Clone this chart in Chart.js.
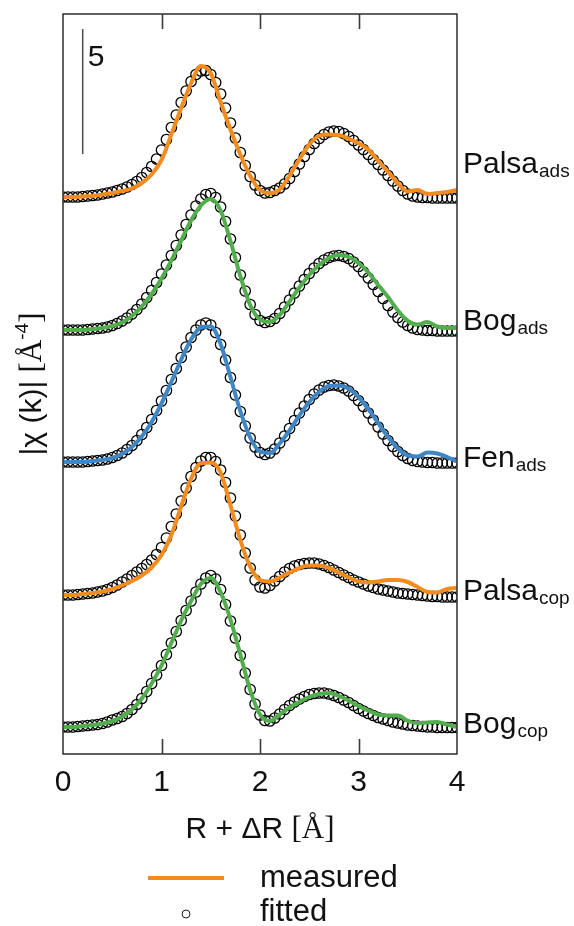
<!DOCTYPE html>
<html>
<head>
<meta charset="utf-8">
<script src="https://cdn.jsdelivr.net/npm/chart.js@4.4.1/dist/chart.umd.min.js"></script>
<style>body{margin:0;background:#fff}</style>
</head>
<body>
<canvas id="exafs" width="574" height="926"></canvas>
<script>
// R grids (Å)
const rMeasured = [0,0.1,0.2,0.3,0.4,0.5,0.6,0.7,0.8,0.9,1.0,1.1,1.2,1.3,1.4,1.5,1.6,1.7,1.8,1.9,2.0,2.1,2.2,2.3,2.4,2.5,2.6,2.7,2.8,2.9,3.0,3.1,3.2,3.3,3.4,3.5,3.6,3.7,3.8,3.9,4.0];
const rFitted = [0,0.05,0.1,0.15,0.2,0.25,0.3,0.35,0.4,0.45,0.5,0.55,0.6,0.65,0.7,0.75,0.8,0.85,0.9,0.95,
  1.0,1.05,1.1,1.15,1.2,1.25,1.3,1.35,1.4,1.45,1.5,1.55,1.6,1.65,1.7,1.75,1.8,1.85,1.9,1.95,
  2.0,2.05,2.1,2.15,2.2,2.25,2.3,2.35,2.4,2.45,2.5,2.55,2.6,2.65,2.7,2.75,2.8,2.85,2.9,2.95,
  3.0,3.05,3.1,3.15,3.2,3.25,3.3,3.35,3.4,3.45,3.5,3.55,3.6,3.65,3.7,3.75,3.8,3.85,3.9,3.95,4.0];

const sampleNames = ["Palsa", "Bog", "Fen", "Palsa", "Bog"];
const sampleSubs = ["ads", "ads", "ads", "cop", "cop"];
const offsets = [22.28, 16.96, 11.68, 6.36, 1.08];
const labelLevels = [23.24, 16.96, 11.48, 6.16, 0.84];
const lineColors = ["#f28c1e", "#52ad4c", "#3f86c4", "#f28c1e", "#52ad4c"];
const xTicks = [0, 1, 2, 3, 4];
const scaleBarX = [0.2, 0.2];
const scaleBarY = [24, 29];

// measured |chi(R)|
const palsaAdsMeas = [0,0,0.02,0.04,0.1,0.16,0.24,0.34,0.56,0.9,1.48,2.5,3.56,4.55,5.24,4.95,3.8,2.7,1.7,0.85,
  0.28,0.16,0.3,0.85,1.5,2.1,2.45,2.5,2.48,2.33,2.15,1.9,1.45,1.0,0.55,0.22,0.28,0.12,0.16,0.2,0.28];
const bogAdsMeas = [0,0,0,0.04,0.08,0.16,0.3,0.56,0.94,1.44,2.06,2.78,3.58,4.38,4.98,5.24,4.78,3.56,2.16,1.0,
  0.42,0.32,0.6,1.14,1.7,2.2,2.6,2.88,3.0,2.92,2.68,2.3,1.8,1.32,0.78,0.36,0.22,0.32,0.14,0.08,0.08];
const fenAdsMeas = [0,0,0,0.04,0.08,0.16,0.32,0.6,1.02,1.6,2.34,3.2,4.1,4.9,5.38,5.42,4.72,3.4,2.04,0.98,
  0.42,0.36,0.74,1.26,1.86,2.4,2.8,3.04,3.06,2.94,2.6,2.12,1.56,1.0,0.54,0.26,0.22,0.38,0.34,0.2,0.02];
const palsaCopMeas = [0,0,0.04,0.08,0.14,0.24,0.38,0.56,0.78,1.1,1.6,2.4,3.55,4.65,5.28,5.3,4.9,3.6,2.2,1.14,
  0.6,0.54,0.7,0.9,1.08,1.18,1.18,1.08,0.9,0.7,0.54,0.5,0.54,0.6,0.6,0.52,0.32,0.12,0.1,0.24,0.28];
const bogCopMeas = [0,0,0.04,0.08,0.14,0.24,0.42,0.7,1.14,1.74,2.46,3.36,4.26,5.04,5.72,5.96,5.4,4.3,2.9,1.48,
  0.5,0.24,0.5,0.78,1.0,1.2,1.32,1.36,1.24,1.06,0.84,0.66,0.5,0.46,0.46,0.24,0.16,0.18,0.2,0.1,0];

// fitted |chi(R)|
const palsaAdsFit = [0,0,0,0,0.02,0.04,0.06,0.08,0.12,0.16,0.2,0.26,0.32,0.4,0.5,0.62,0.78,0.98,1.22,1.52,
  1.88,2.3,2.78,3.28,3.78,4.24,4.62,4.9,5.04,5.06,4.9,4.58,4.12,3.56,2.96,2.36,1.78,1.26,0.82,0.48,
  0.26,0.16,0.18,0.26,0.36,0.52,0.74,1.02,1.32,1.62,1.9,2.14,2.34,2.5,2.6,2.64,2.62,2.54,2.42,2.26,
  2.08,1.9,1.7,1.5,1.3,1.08,0.86,0.64,0.44,0.26,0.12,0.04,0,-0.02,-0.02,-0.04,-0.04,-0.04,-0.04,-0.04,-0.04];
const bogAdsFit = [0,0,0,0,0,0.02,0.04,0.06,0.08,0.12,0.18,0.26,0.36,0.48,0.64,0.82,1.04,1.3,1.58,1.9,
  2.24,2.6,2.98,3.38,3.8,4.22,4.6,4.96,5.24,5.42,5.46,5.3,4.92,4.34,3.64,2.9,2.2,1.56,1.02,0.62,
  0.38,0.3,0.34,0.46,0.66,0.92,1.2,1.48,1.76,2.02,2.26,2.48,2.66,2.8,2.9,2.96,2.98,2.94,2.86,2.72,
  2.54,2.32,2.08,1.82,1.54,1.26,0.98,0.72,0.5,0.32,0.18,0.08,0.02,0,-0.02,-0.02,-0.04,-0.04,-0.04,-0.04,-0.04];
const fenAdsFit = [0,0,0,0,0,0.02,0.04,0.06,0.08,0.12,0.18,0.26,0.36,0.5,0.66,0.86,1.1,1.38,1.7,2.06,
  2.44,2.86,3.3,3.74,4.18,4.6,4.98,5.28,5.48,5.56,5.48,5.18,4.7,4.08,3.38,2.68,2.02,1.44,0.96,0.6,
  0.38,0.3,0.36,0.52,0.76,1.04,1.34,1.66,1.96,2.24,2.5,2.72,2.88,3.0,3.06,3.08,3.04,2.96,2.84,2.66,
  2.46,2.22,1.96,1.68,1.4,1.12,0.86,0.62,0.42,0.26,0.14,0.06,0.02,0,-0.02,-0.02,-0.04,-0.04,-0.04,-0.04,-0.04];
const palsaCopFit = [0,0,0,0.02,0.04,0.06,0.08,0.12,0.16,0.22,0.3,0.4,0.52,0.64,0.78,0.92,1.06,1.22,1.4,1.62,
  1.9,2.28,2.74,3.24,3.76,4.28,4.74,5.1,5.36,5.5,5.5,5.34,5.0,4.5,3.88,3.16,2.4,1.68,1.08,0.6,
  0.32,0.28,0.38,0.56,0.74,0.92,1.06,1.16,1.22,1.26,1.28,1.28,1.24,1.18,1.1,1.0,0.9,0.8,0.7,0.6,
  0.52,0.44,0.36,0.3,0.24,0.2,0.16,0.12,0.08,0.06,0.04,0.02,0,-0.02,-0.04,-0.06,-0.06,-0.08,-0.08,-0.08,-0.08];
const bogCopFit = [0,0,0,0.02,0.04,0.06,0.08,0.1,0.14,0.2,0.28,0.34,0.42,0.54,0.7,0.9,1.14,1.42,1.74,2.08,
  2.46,2.9,3.36,3.82,4.26,4.66,5.04,5.4,5.72,5.96,6.06,5.92,5.5,4.9,4.24,3.56,2.86,2.16,1.5,0.92,
  0.48,0.26,0.24,0.36,0.52,0.7,0.86,1.0,1.12,1.22,1.3,1.34,1.36,1.36,1.32,1.26,1.18,1.08,0.98,0.86,
  0.74,0.64,0.54,0.46,0.38,0.32,0.26,0.2,0.16,0.12,0.08,0.06,0.04,0.02,0,0,-0.02,-0.02,-0.02,-0.02,-0.02];

const measured = [palsaAdsMeas, bogAdsMeas, fenAdsMeas, palsaCopMeas, bogCopMeas];
const fitted = [palsaAdsFit, bogAdsFit, fenAdsFit, palsaCopFit, bogCopFit];

const SANS = "'Liberation Sans', Arial, sans-serif";
const SERIF = "'Liberation Serif', 'Times New Roman', serif";

let datasets = [];
// scale bar
datasets.push({
  data: scaleBarX.map((x, i) => ({x: x, y: scaleBarY[i]})),
  borderColor: "#4a4a4a", borderWidth: 1.5, pointRadius: 0, showLine: true
});
// measured lines first => drawn on top
measured.forEach((m, i) => {
  datasets.push({
    data: rMeasured.map((r, j) => ({x: r, y: m[j] + offsets[i]})),
    borderColor: lineColors[i], borderWidth: 4, pointRadius: 0,
    showLine: true, cubicInterpolationMode: "monotone"
  });
});
fitted.forEach((f, i) => {
  datasets.push({
    data: rFitted.map((r, j) => ({x: r, y: f[j] + offsets[i]})),
    showLine: false, pointRadius: 5.2, pointStyle: "circle",
    pointBorderColor: "#000", pointBackgroundColor: "rgba(0,0,0,0)", pointBorderWidth: 1.3
  });
});

function drawSubLabel(ctx, x, y, main, sub) {
  ctx.font = "30px " + SANS;
  ctx.textAlign = "left";
  ctx.textBaseline = "alphabetic";
  ctx.fillText(main, x, y);
  let w = ctx.measureText(main).width;
  ctx.font = "19px " + SANS;
  ctx.fillText(sub, x + w + 1, y + 4);
}

const decor = {
  id: "decor",
  afterDraw(chart) {
    const ctx = chart.ctx, a = chart.chartArea;
    const xs = chart.scales.x, ys = chart.scales.y;
    ctx.save();
    // frame
    ctx.strokeStyle = "#3a3a3a";
    ctx.lineWidth = 1.6;
    ctx.strokeRect(a.left, a.top, a.right - a.left, a.bottom - a.top);
    // inward ticks top and bottom
    xTicks.forEach(v => {
      if (v === xs.min || v === xs.max) return;
      const px = Math.round(xs.getPixelForValue(v)) + 0.5;
      ctx.beginPath();
      ctx.moveTo(px, a.top); ctx.lineTo(px, a.top + 15);
      ctx.moveTo(px, a.bottom); ctx.lineTo(px, a.bottom - 15);
      ctx.stroke();
    });
    ctx.fillStyle = "#111";
    // scale bar value
    ctx.font = "30px " + SANS;
    ctx.textAlign = "left";
    ctx.textBaseline = "middle";
    ctx.fillText("5", xs.getPixelForValue(scaleBarX[0]) + 5, ys.getPixelForValue(27.84));
    // sample labels
    sampleNames.forEach((n, i) => {
      drawSubLabel(ctx, a.right + 6, ys.getPixelForValue(labelLevels[i]), n, sampleSubs[i]);
    });
    // x title
    const p1 = "R + \u0394R ", p2 = "[\u00c5]";
    ctx.textBaseline = "alphabetic";
    ctx.font = "30px " + SANS;
    const w1 = ctx.measureText(p1).width;
    ctx.font = "31px " + SERIF;
    const w2 = ctx.measureText(p2).width;
    let tx = (a.left + a.right) / 2 - (w1 + w2) / 2;
    ctx.font = "30px " + SANS;
    ctx.fillText(p1, tx, 838);
    ctx.font = "31px " + SERIF;
    ctx.fillText(p2, tx + w1, 838);
    // y title (rotated)
    ctx.save();
    ctx.translate(41, (a.top + a.bottom) / 2);
    ctx.rotate(-Math.PI / 2);
    const q1 = "|\u03c7 (k)| ", q2 = "[\u00c5", q3 = "-4", q4 = "]";
    ctx.font = "30px " + SANS; const v1 = ctx.measureText(q1).width;
    ctx.font = "31px " + SERIF; const v2 = ctx.measureText(q2).width;
    ctx.font = "19px " + SANS; const v3 = ctx.measureText(q3).width;
    ctx.font = "31px " + SERIF; const v4 = ctx.measureText(q4).width;
    let yx = -(v1 + v2 + v3 + v4) / 2;
    ctx.font = "30px " + SANS; ctx.fillText(q1, yx, 0); yx += v1;
    ctx.font = "31px " + SERIF; ctx.fillText(q2, yx, 0); yx += v2;
    ctx.font = "19px " + SANS; ctx.fillText(q3, yx, -13); yx += v3;
    ctx.font = "31px " + SERIF; ctx.fillText(q4, yx, 0);
    ctx.restore();
    // legend
    ctx.strokeStyle = lineColors[0];
    ctx.lineWidth = 4;
    ctx.beginPath(); ctx.moveTo(148, 878); ctx.lineTo(224, 878); ctx.stroke();
    ctx.strokeStyle = "#222"; ctx.lineWidth = 1;
    ctx.beginPath(); ctx.arc(186, 914, 4, 0, Math.PI * 2); ctx.stroke();
    ctx.font = "31px " + SANS; ctx.textBaseline = "middle"; ctx.textAlign = "left";
    ctx.fillText("measured", 260, 878);
    ctx.fillText("fitted", 260, 912);
    ctx.restore();
  }
};

new Chart(document.getElementById("exafs"), {
  type: "scatter",
  data: {datasets: datasets},
  options: {
    responsive: false,
    animation: false,
    layout: {padding: {left: 63, right: 117, top: 14, bottom: 0}},
    plugins: {legend: {display: false}, tooltip: {enabled: false}},
    scales: {
      x: {
        type: "linear", min: 0, max: 4,
        afterBuildTicks: s => { s.ticks = xTicks.map(v => ({value: v})); },
        afterFit: s => { s.height = 172; },
        grid: {display: false, drawTicks: false},
        border: {display: false},
        ticks: {font: {family: SANS, size: 30}, color: "#111", padding: 11}
      },
      y: {type: "linear", min: 0, max: 29.6, display: false}
    }
  },
  plugins: [decor]
});
</script>
</body>
</html>
